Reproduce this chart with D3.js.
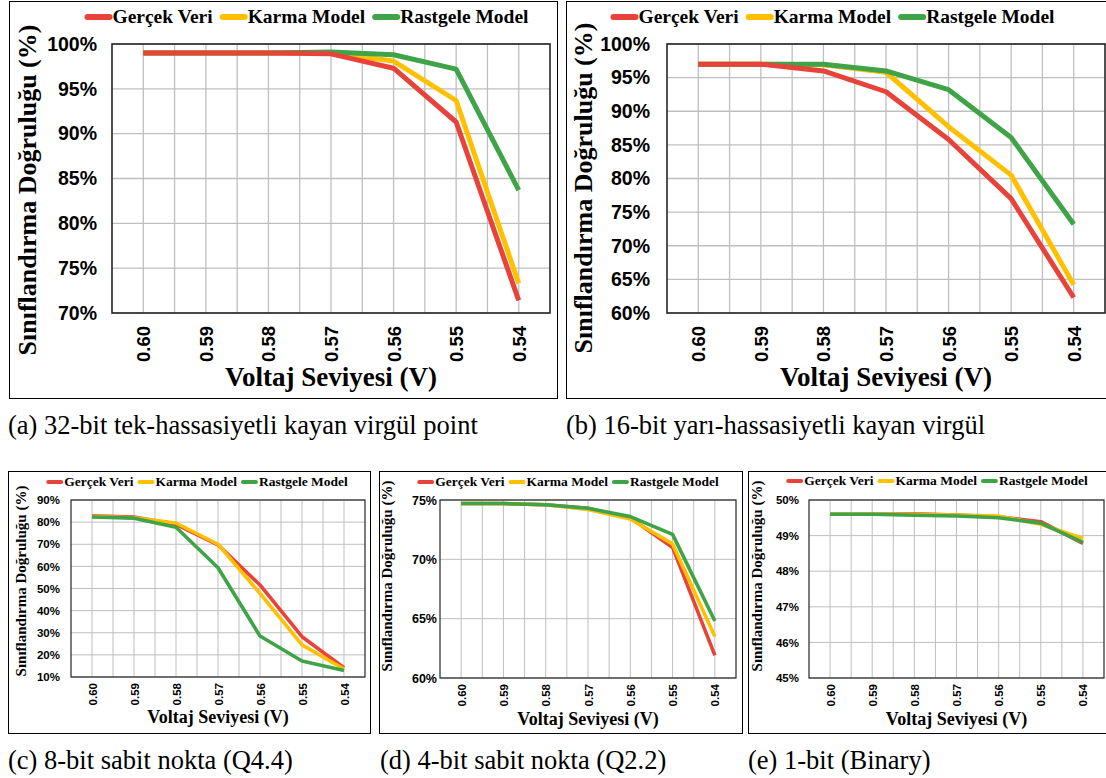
<!DOCTYPE html>
<html>
<head>
<meta charset="utf-8">
<script src="https://cdn.jsdelivr.net/npm/d3@7"></script>
<style>
  html,body{margin:0;padding:0;background:#fff;}
  svg{display:block;}
</style>
</head>
<body>
<svg id="fig" width="1106" height="778"></svg>
<script>
/* ---------- data ---------- */
const voltages = [0.60, 0.59, 0.58, 0.57, 0.56, 0.55, 0.54];
const seriesNames = ["Gerçek Veri", "Karma Model", "Rastgele Model"];
const seriesColors = ["#e8433b", "#ffc000", "#3fa348"];

// (a) 32-bit
const aGercek = [99.0, 99.0, 99.0, 98.9, 97.3, 91.3, 71.4];
const aKarma  = [99.0, 99.0, 99.0, 99.0, 98.1, 93.7, 73.3];
const aRast   = [99.0, 99.0, 99.0, 99.1, 98.8, 97.2, 83.7];
// (b) 16-bit
const bGercek = [97.0, 97.0, 96.0, 92.9, 85.8, 77.0, 62.3];
const bKarma  = [97.0, 97.0, 96.9, 95.8, 87.7, 80.5, 64.2];
const bRast   = [97.0, 97.0, 97.0, 96.0, 93.2, 86.1, 73.2];
// (c) 8-bit
const cGercek = [82.9, 82.3, 79.0, 69.7, 51.6, 28.2, 14.2];
const cKarma  = [82.6, 82.0, 79.6, 70.0, 47.8, 24.5, 13.6];
const cRast   = [82.3, 81.8, 77.7, 59.4, 28.5, 17.2, 12.9];
// (d) 4-bit
const dGercek = [74.7, 74.7, 74.6, 74.3, 73.5, 71.0, 61.9];
const dKarma  = [74.7, 74.7, 74.6, 74.2, 73.4, 71.3, 63.5];
const dRast   = [74.7, 74.7, 74.6, 74.3, 73.6, 72.1, 64.8];
// (e) 1-bit
const eGercek = [49.60, 49.60, 49.61, 49.58, 49.53, 49.39, 48.78];
const eKarma  = [49.60, 49.60, 49.60, 49.58, 49.55, 49.32, 48.92];
const eRast   = [49.60, 49.60, 49.57, 49.55, 49.50, 49.35, 48.81];

const aTicks = [70, 75, 80, 85, 90, 95, 100];
const bTicks = [60, 65, 70, 75, 80, 85, 90, 95, 100];
const cTicks = [10, 20, 30, 40, 50, 60, 70, 80, 90];
const dTicks = [60, 65, 70, 75];
const eTicks = [45, 46, 47, 48, 49, 50];

const captions = [
  "(a) 32-bit tek-hassasiyetli kayan virgül point",
  "(b) 16-bit yarı-hassasiyetli kayan virgül",
  "(c) 8-bit sabit nokta (Q4.4)",
  "(d) 4-bit sabit nokta (Q2.2)",
  "(e) 1-bit (Binary)"
];

const yTitle = "Sınıflandırma Doğruluğu (%)";
const xTitle = "Voltaj Seviyesi (V)";
const SERIF = "'Liberation Serif','Times New Roman',serif";
const SANS  = "'Liberation Sans',Arial,sans-serif";

/* ---------- layout ---------- */
const big = {tick:19.5, xtick:18.5, legend:19.5, title:27, ytitle:26, lw:5, grid:1.3, sw:22, sh:6, lgap:10, ticktop:13};
const small = {tick:11.5, xtick:11.5, legend:13.5, title:18, ytitle:15, lw:3.6, grid:1, sw:13, sh:4, lgap:6, ticktop:6};

const panels = [
  {frame:[9,1,557,398], plot:[112,44,550,313], dom:[70,100], ticks:aTicks, data:[aGercek,aKarma,aRast], order:[1,2,0],
   st:big, yOff:15, legY:17, legX:308, yt:[28,190], xtY:386, cap:[8,434,captions[0]]},
  {frame:[566,1,1112,398], plot:[667,44,1105,313], dom:[60,100], ticks:bTicks, data:[bGercek,bKarma,bRast], order:[1,2,0],
   st:big, yOff:17, legY:17, legX:834, yt:[584,188], xtY:386, cap:[566,434,captions[1]]},
  {frame:[8,471,370,733], plot:[71,500,365,677], dom:[10,90], ticks:cTicks, data:[cGercek,cKarma,cRast], order:[0,1,2],
   st:small, yOff:11, legY:482, legX:198, yt:[21,581], xtY:723, cap:[8,769,captions[2]]},
  {frame:[379,471,742,733], plot:[440,500,736,678], dom:[60,75], ticks:dTicks, data:[dGercek,dKarma,dRast], order:[0,1,2],
   st:Object.assign({}, small, {tick:12.5}), yOff:3, legY:482, legX:569, yt:[387,576], xtY:725, cap:[380,769,captions[3]]},
  {frame:[748,471,1112,733], plot:[809,500,1104,678], dom:[45,50], ticks:eTicks, data:[eGercek,eKarma,eRast], order:[0,1,2],
   st:small, yOff:10, legY:481, legX:938, yt:[757,576], xtY:725, cap:[748,769,captions[4]]}
];

const svg = d3.select("#fig");
svg.append("rect").attr("width",1106).attr("height",778).attr("fill","#fff");

panels.forEach(drawPanel);

function drawPanel(p){
  const st = p.st;
  const [fx0,fy0,fx1,fy1] = p.frame;
  const [px0,py0,px1,py1] = p.plot;
  const g = svg.append("g");

  g.append("rect").attr("x",fx0+0.5).attr("y",fy0+0.5)
    .attr("width",fx1-fx0).attr("height",fy1-fy0)
    .attr("fill","#fff").attr("stroke","#000").attr("stroke-width",1);

  const x = d3.scaleLinear().domain([0.605,0.535]).range([px0,px1]);
  const y = d3.scaleLinear().domain(p.dom).range([py1,py0]);

  // grid
  const vgrid = d3.range(13).map(i => 0.600 - 0.005*i);
  g.append("g").selectAll("line").data(vgrid).join("line")
    .attr("x1",d=>x(d)).attr("x2",d=>x(d)).attr("y1",py0).attr("y2",py1)
    .attr("stroke","#bfbfbf").attr("stroke-width",st.grid);
  g.append("g").selectAll("line").data(p.ticks).join("line")
    .attr("x1",px0).attr("x2",px1).attr("y1",d=>y(d)).attr("y2",d=>y(d))
    .attr("stroke","#bfbfbf").attr("stroke-width",st.grid);
  g.append("rect").attr("x",px0).attr("y",py0).attr("width",px1-px0).attr("height",py1-py0)
    .attr("fill","none").attr("stroke","#262626").attr("stroke-width",st===big?1.6:1.2);

  // y ticks
  const yAxis = d3.axisLeft(y).tickValues(p.ticks).tickSize(0).tickPadding(p.yOff).tickFormat(d=>d+"%");
  const ya = g.append("g").attr("transform",`translate(${px0},0)`).call(yAxis);
  ya.select(".domain").remove();
  ya.selectAll("text").attr("font-family",SANS).attr("font-weight","bold")
    .attr("font-size",st.tick).attr("fill","#000");

  // x ticks (rotated)
  const xAxis = d3.axisBottom(x).tickValues(voltages).tickSize(0).tickFormat(d3.format(".2f"));
  const xa = g.append("g").attr("transform",`translate(0,${py1})`).call(xAxis);
  xa.select(".domain").remove();
  xa.selectAll("text").attr("font-family",SANS).attr("font-weight","bold")
    .attr("font-size",st.xtick).attr("fill","#000")
    .attr("transform","rotate(-90)").attr("text-anchor","end")
    .attr("x",-st.ticktop).attr("y",0).attr("dy","0.35em");

  // lines
  const line = d3.line().x((d,i)=>x(voltages[i])).y(d=>y(d));
  p.order.forEach(k=>{
    g.append("path").datum(p.data[k]).attr("d",line)
      .attr("fill","none").attr("stroke",seriesColors[k])
      .attr("stroke-width",st.lw).attr("stroke-linejoin","round").attr("stroke-linecap","butt");
  });

  // legend
  const lg = g.append("g");
  let cx = 0;
  seriesNames.forEach((n,k)=>{
    lg.append("line").attr("x1",cx).attr("x2",cx+st.sw).attr("y1",0).attr("y2",0)
      .attr("stroke",seriesColors[k]).attr("stroke-width",st.sh).attr("stroke-linecap","round");
    cx += st.sw + 3;
    const t = lg.append("text").attr("x",cx).attr("y",0).attr("dy","0.33em")
      .attr("font-family",SERIF).attr("font-weight","bold").attr("font-size",st.legend).text(n);
    cx += t.node().getComputedTextLength() + st.lgap;
  });
  const lw = cx - st.lgap;
  lg.attr("transform",`translate(${p.legX - lw/2},${p.legY})`);

  // axis titles
  g.append("text").attr("transform",`translate(${p.yt[0]},${p.yt[1]}) rotate(-90)`)
    .attr("text-anchor","middle").attr("dy","0.32em")
    .attr("font-family",SERIF).attr("font-weight","bold")
    .attr("font-size",st.ytitle).text(yTitle);
  g.append("text").attr("x",(px0+px1)/2).attr("y",p.xtY).attr("text-anchor","middle")
    .attr("font-family",SERIF).attr("font-weight","bold").attr("font-size",st.title).text(xTitle);

  // caption
  svg.append("text").attr("x",p.cap[0]).attr("y",p.cap[1])
    .attr("font-family",SERIF).attr("font-size",26.5).attr("fill","#000").text(p.cap[2]);
}
</script>
</body>
</html>
